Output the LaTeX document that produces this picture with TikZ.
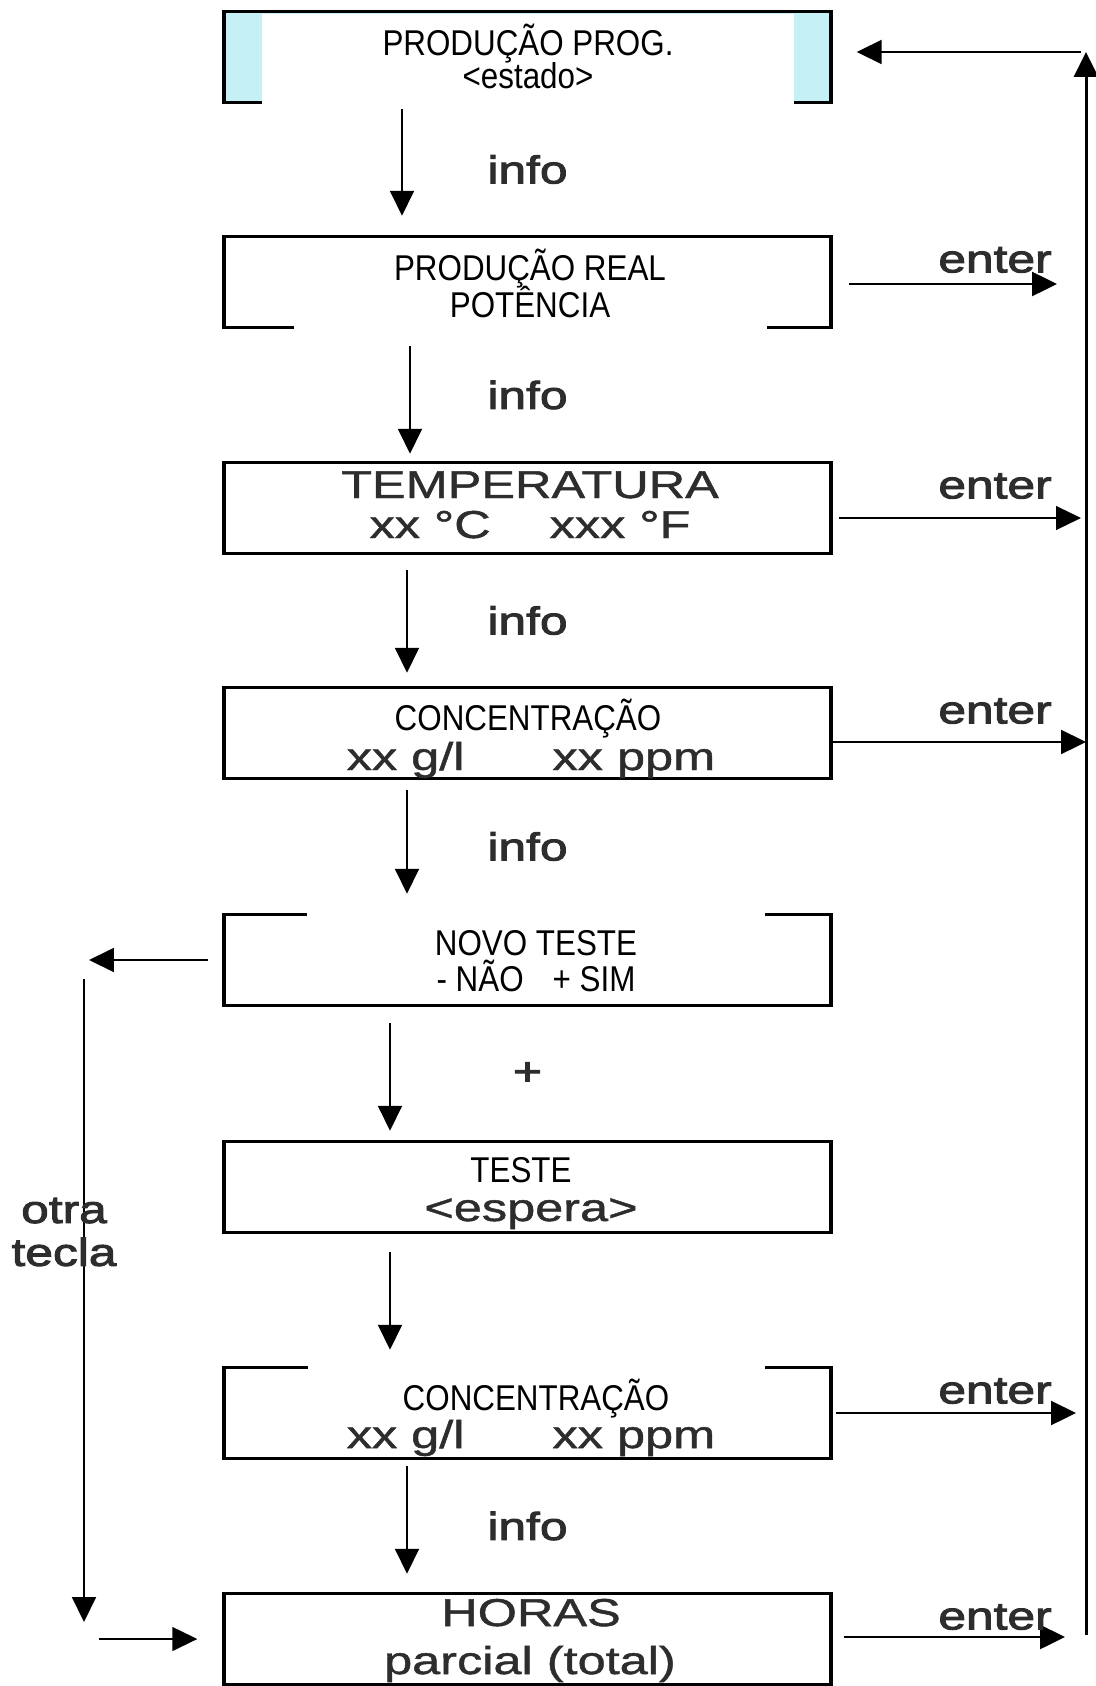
\documentclass[tikz,border=0pt]{standalone}
\usepackage{fontspec}
\setmainfont{Liberation Sans}
\newfontfamily\narrowfont[FakeStretch=0.875]{Liberation Sans}
\newfontfamily\widefont[FakeStretch=1.3,FakeBold=1.2]{Liberation Sans}
\newfontfamily\lblfont[FakeStretch=1.28,FakeBold=2.6]{Liberation Sans}
\usetikzlibrary{arrows.meta,calc}
\definecolor{lcyan}{RGB}{196,240,246}
\definecolor{greytext}{RGB}{45,45,45}
\tikzset{
  box/.style={draw, line width=2pt, minimum width=12.14cm, minimum height=1.82cm, inner sep=0pt},
  narrow/.style={font=\narrowfont\fontsize{20.4}{21.3}\selectfont, anchor=base, inner sep=0pt},
  wide/.style={font=\widefont\fontsize{22.1}{22.6}\selectfont, text=greytext, anchor=base, inner sep=0pt},
  lbl/.style={font=\lblfont\fontsize{22.1}{24.4}\selectfont, text=greytext, inner sep=0pt},
  tri/.style={-{Triangle[length=0.5cm,width=0.48cm]}, line width=1.1pt},
}
\begin{document}
\begin{tikzpicture}[x=0.02cm, y=-0.02cm]
    \useasboundingbox (0,0) rectangle (1095,1686);
    \def\ys{282,508,733,960,1187,1413,1639}
    % boxes
    \node[box, fill=lcyan] (b1) at (527.5,57) {};
    \foreach \y [count=\i from 2] in \ys {\node[box] (b\i) at (527.5,\y) {};}
    % white label patches over the borders
    \fill[white] (262,14) rectangle (794,106);
    \fill[white] (294,242) rectangle (767,331);
    \fill[white] (307,912) rectangle (765,920);
    \fill[white] (308,1365) rectangle (765,1373);
    % texts
    \node[narrow] (t1a) at (528,56) {PRODUÇÃO PROG.};
    \node[narrow] (t1b) at (528,89) {<estado>};
    \node[narrow] (t2a) at (530,280) {PRODUÇÃO REAL};
    \node[narrow] (t2b) at (530,317) {POTÊNCIA};
    \node[wide] (t3a) at (530,498) {TEMPERATURA};
    \node[wide] (t3b) at (530,538) {xx °C\hspace{1.18cm}xxx °F};
    \node[narrow] (t4a) at (528,730) {CONCENTRAÇÃO};
    \node[wide] (t4b) at (531,770) {xx g/l\hspace{1.76cm}xx ppm};
    \node[narrow] (t5a) at (536,955) {NOVO TESTE};
    \node[narrow] (t5b) at (536,991) {- NÃO\hspace{0.58cm}+ SIM};
    \node[narrow] (t6a) at (521,1182) {TESTE};
    \node[wide] (t6b) at (531,1221) {<espera>};
    \node[narrow] (t7a) at (536,1410) {CONCENTRAÇÃO};
    \node[wide] (t7b) at (531,1448) {xx g/l\hspace{1.76cm}xx ppm};
    \node[wide] (t8a) at (531,1626) {HORAS};
    \node[wide] (t8b) at (530,1674) {parcial (total)};
    % down arrows
    \foreach \a/\b/\x/\s/\e in {1/2/402/5/19, 2/3/410/17/7, 3/4/407/15/13, 4/5/407/10/19, 5/6/390/16/9, 6/7/390/18/16, 7/8/407/6/18}
      {\draw[tri, shorten <=\s*0.02cm, shorten >=\e*0.02cm] (b\a.south -| \x,0) -- (b\b.north -| \x,0);}
    \foreach \a/\b in {1/2,2/3,3/4,4/5,7/8} {\path (b\a) -- (b\b) node[midway, lbl] (info\a) {info};}
    \path (b5) -- (b6) node[midway, lbl] (plus) {+};
    % return line on the right
    \coordinate (rtop) at (1086,52);
    \coordinate (rbot) at (1086,1635);
    \draw[tri, line width=1.7pt] (rbot) -- (rtop);
    \draw[tri, shorten >=0.48cm] ([xshift=-0.1cm]rtop) -- (rtop -| b1.east);
    \foreach \b/\dy/\s/\e/\lw in {2/2/16/29/1.4pt, 3/10/6/5/0.6pt, 4/9/0/0/1.3pt, 7/0/3/10/1.3pt, 8/-2/11/21/1.4pt}
      {\draw[tri, line width=\lw, shorten <=\s*0.02cm, shorten >=\e*0.02cm] ([yshift={-(\dy)*0.02cm}]b\b.east) -- ([yshift={-(\dy)*0.02cm}]b\b.east -| rtop);
       \node[lbl] (enter\b) at ($(b\b.center -| rtop)+(-91,-22)$) {enter};}
    % other key, on the left
    \coordinate (ltop) at (84,979);
    \coordinate (lbot) at (84,1622);
    \coordinate (lin) at (99,1639);
    \draw[tri, shorten <=0.28cm, shorten >=0.1cm] (b5.west) -- (b5.west -| ltop);
    \draw[tri] (ltop) -- (lbot);
    \draw[tri, line width=0.8pt, shorten >=0.5cm] (lin) -- (b8.west);
    \node[lbl, align=center] (otra) at (64,1232) {otra\\tecla};
  \end{tikzpicture}
\end{document}
